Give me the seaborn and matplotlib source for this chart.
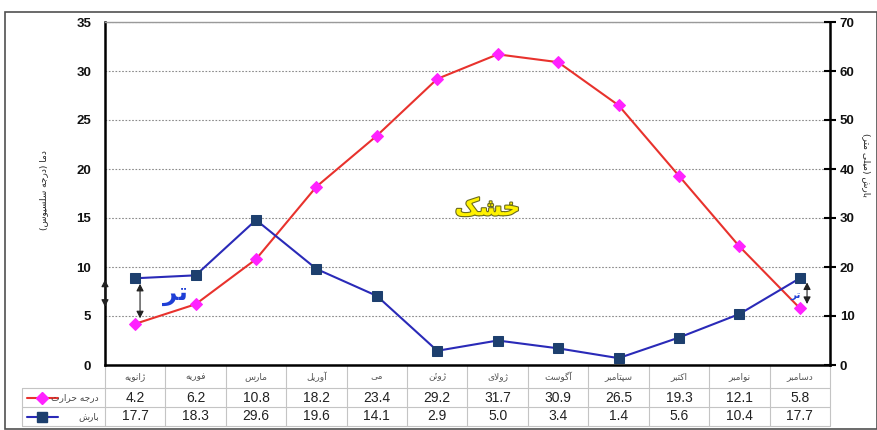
import matplotlib
matplotlib.use("Agg")
import matplotlib.pyplot as plt
import matplotlib.patheffects as pe
from matplotlib.patches import Rectangle
import seaborn as sns
import pandas as pd

# ---- data -------------------------------------------------------------
months = ["ژانویه", "فوریه", "مارس", "آوریل", "می", "ژوئن",
          "ژولای", "آگوست", "سپتامبر", "اکتبر", "نوامبر", "دسامبر"]
temperature = [4.2, 6.2, 10.8, 18.2, 23.4, 29.2, 31.7, 30.9, 26.5, 19.3, 12.1, 5.8]
precipitation = [17.7, 18.3, 29.6, 19.6, 14.1, 2.9, 5.0, 3.4, 1.4, 5.6, 10.4, 17.7]
temp_label = "درجه حرارت"
prec_label = "بارش"
left_title = "دما (درجه سلسیوس)"
right_title = "بارش (میلی متر)"
wet_label = "تر"
dry_label = "خشک"
temp_ticks = [0, 5, 10, 15, 20, 25, 30, 35]
prec_ticks = [0, 10, 20, 30, 40, 50, 60, 70]

# ---- minimal Persian shaping (contextual forms + right-to-left order) --
# letter: (isolated, final, initial, medial); None initial => right-joining
FORMS = {
    "\u0627": (0xFE8D, 0xFE8E, None, None),
    "\u0622": (0xFE81, 0xFE82, None, None),
    "\u0628": (0xFE8F, 0xFE90, 0xFE91, 0xFE92),
    "\u067E": (0xFB56, 0xFB57, 0xFB58, 0xFB59),
    "\u062A": (0xFE95, 0xFE96, 0xFE97, 0xFE98),
    "\u062C": (0xFE9D, 0xFE9E, 0xFE9F, 0xFEA0),
    "\u062D": (0xFEA1, 0xFEA2, 0xFEA3, 0xFEA4),
    "\u062E": (0xFEA5, 0xFEA6, 0xFEA7, 0xFEA8),
    "\u062F": (0xFEA9, 0xFEAA, None, None),
    "\u0631": (0xFEAD, 0xFEAE, None, None),
    "\u0698": (0xFB8A, 0xFB8B, None, None),
    "\u0633": (0xFEB1, 0xFEB2, 0xFEB3, 0xFEB4),
    "\u0634": (0xFEB5, 0xFEB6, 0xFEB7, 0xFEB8),
    "\u0641": (0xFED1, 0xFED2, 0xFED3, 0xFED4),
    "\u06A9": (0xFB8E, 0xFB8F, 0xFB90, 0xFB91),
    "\u06AF": (0xFB92, 0xFB93, 0xFB94, 0xFB95),
    "\u0644": (0xFEDD, 0xFEDE, 0xFEDF, 0xFEE0),
    "\u0645": (0xFEE1, 0xFEE2, 0xFEE3, 0xFEE4),
    "\u0646": (0xFEE5, 0xFEE6, 0xFEE7, 0xFEE8),
    "\u0648": (0xFEED, 0xFEEE, None, None),
    "\u0647": (0xFEE9, 0xFEEA, 0xFEEB, 0xFEEC),
    "\u06CC": (0xFBFC, 0xFBFD, 0xFBFE, 0xFBFF),
    "\u0626": (0xFE89, 0xFE8A, 0xFE8B, 0xFE8C),
}
LAM_ALEF = {"\u0627": (0xFEFB, 0xFEFC), "\u0622": (0xFEF5, 0xFEF6)}


def joins_next(ch):
    return ch in FORMS and FORMS[ch][2] is not None


def rtl(text):
    chars = list(text)
    out = []
    i = 0
    while i < len(chars):
        ch = chars[i]
        prev = chars[i - 1] if i > 0 else ""
        nxt = chars[i + 1] if i + 1 < len(chars) else ""
        if ch not in FORMS:
            out.append(ch)
            i += 1
            continue
        p = joins_next(prev)
        if ch == "\u0644" and nxt in LAM_ALEF:
            iso, fin = LAM_ALEF[nxt]
            out.append(chr(fin if p else iso))
            i += 2
            continue
        n = joins_next(ch) and nxt in FORMS
        iso, fin, ini, med = FORMS[ch]
        if p and n:
            code = med
        elif p:
            code = fin
        elif n:
            code = ini
        else:
            code = iso
        out.append(chr(code))
        i += 1
    swap = {"(": ")", ")": "("}
    return "".join(swap.get(c, c) for c in reversed(out))


# ---- figure -----------------------------------------------------------
sns.set_theme(style="white")
plt.rcParams["font.family"] = ["Liberation Sans", "DejaVu Sans"]
AR = "DejaVu Sans"

W, H = 878, 430
fig = plt.figure(figsize=(W / 100, H / 100), dpi=100)
fig.patch.set_facecolor("white")
fig.patches.append(Rectangle((5 / W, 1 / H), (W - 6) / W, (H - 13) / H,
                             transform=fig.transFigure, fill=False,
                             edgecolor="#505050", lw=1.2))

ax = fig.add_axes([105 / W, 1 - 365 / H, (830 - 105) / W, (365 - 22) / H])
ax2 = ax.twinx()

x = list(range(len(months)))
df = pd.DataFrame({"m": x, "t": temperature, "p": precipitation})

sns.lineplot(data=df, x="m", y="t", ax=ax, color="#e8322d", lw=1.5,
             marker="D", markersize=6.5, markerfacecolor="#ff22ff",
             markeredgecolor="#ff22ff", zorder=4)
sns.lineplot(data=df, x="m", y="p", ax=ax2, color="#2a2ab8", lw=1.5,
             marker="s", markersize=7, markerfacecolor="#1d3f6e",
             markeredgecolor="#1d3f6e", zorder=4)

ax.set_xlim(-0.5, 11.5)
ax.set_ylim(temp_ticks[0], temp_ticks[-1])
ax2.set_ylim(prec_ticks[0], prec_ticks[-1])
ax.set_yticks(temp_ticks)
ax2.set_yticks(prec_ticks)
ax.set_xticks([])
ax2.set_xticks([])
ax.set_xlabel("")
ax.set_ylabel("")
ax2.set_ylabel("")

ax.yaxis.grid(True, linestyle=(0, (1.5, 1.5)), color="#8a8a8a", lw=0.8)
ax.set_axisbelow(True)

for s in ["left", "bottom"]:
    ax.spines[s].set_color("black")
    ax.spines[s].set_linewidth(1.8)
ax.spines["top"].set_color("#9a9a9a")
ax.spines["top"].set_linewidth(1.0)
ax.spines["right"].set_visible(False)
for s in ["left", "bottom", "top"]:
    ax2.spines[s].set_visible(False)
ax2.spines["right"].set_color("black")
ax2.spines["right"].set_linewidth(1.8)

ax.tick_params(axis="y", length=0, pad=10, labelsize=9.5)
ax2.tick_params(axis="y", direction="inout", length=8, width=1.5,
                color="black", pad=3, labelsize=9.5)
for lab in ax.get_yticklabels() + ax2.get_yticklabels():
    lab.set_fontweight("bold")
    lab.set_color("#111111")

fig.text(44 / W, 1 - 190 / H, rtl(left_title), rotation=90, family=AR,
         fontsize=6.5, ha="center", va="center", color="#222222")
fig.text(866 / W, 1 - 165 / H, rtl(right_title), rotation=-90, family=AR,
         fontsize=6.5, ha="center", va="center", color="#222222")

# ---- annotations: wet / dry periods ------------------------------------
arrow = dict(arrowstyle="<|-|>,head_length=0.35,head_width=0.18",
             color="#222222", lw=0.8)
ax.annotate("", xy=(0.08, temperature[0]), xytext=(0.08, precipitation[0] / 2),
            arrowprops=dict(arrow, shrinkA=4, shrinkB=4), zorder=6)
ax.annotate("", xy=(11.12, temperature[-1]), xytext=(11.12, precipitation[-1] / 2),
            arrowprops=dict(arrow, shrinkA=3, shrinkB=3), zorder=6)
ax.annotate("", xy=(-0.5, temperature[-1]), xytext=(-0.5, precipitation[-1] / 2),
            arrowprops=dict(arrow, shrinkA=1, shrinkB=1), annotation_clip=False,
            zorder=6)

ax.text(0.66, 7.2, rtl(wet_label), family=AR, fontsize=18, fontweight="bold",
        color="#1f3fd6", ha="center", va="center", zorder=7)
ax.text(10.93, 7.0, rtl(wet_label), family=AR, fontsize=7.5, fontweight="bold",
        color="#1f3fd6", ha="center", va="center", zorder=7)
ax.text(5.83, 16.0, rtl(dry_label), family=AR, fontsize=17, fontweight="bold",
        color="#fff200", ha="center", va="center", zorder=7,
        path_effects=[pe.withStroke(linewidth=1.6, foreground="#6a6a20")])

# ---- data table under the plot ----------------------------------------
tr = ax.get_xaxis_transform()
ph = 343.0
y_head = -23 / ph
y_row1 = -42 / ph
y_row2 = -61 / ph
x_lab = -0.5 - 83 / 60.4
gcol = "#c4c4c4"

for k in range(13):
    ax.plot([k - 0.5, k - 0.5], [0, y_row2], transform=tr, color=gcol,
            lw=0.8, clip_on=False, zorder=1)
ax.plot([x_lab, x_lab], [y_head, y_row2], transform=tr, color=gcol, lw=0.8,
        clip_on=False)
for yy in (y_head, y_row1, y_row2):
    ax.plot([x_lab, 11.5], [yy, yy], transform=tr, color=gcol, lw=0.8,
            clip_on=False)

for i, m in enumerate(months):
    ax.text(i, y_head / 2, rtl(m), transform=tr, family=AR, fontsize=6.5,
            color="#555555", ha="center", va="center")
    ax.text(i, (y_head + y_row1) / 2, f"{temperature[i]:.1f}", transform=tr,
            fontsize=10, color="#222222", ha="center", va="center")
    ax.text(i, (y_row1 + y_row2) / 2, f"{precipitation[i]:.1f}", transform=tr,
            fontsize=10, color="#222222", ha="center", va="center")

# legend keys inside the label column
kx0, kx1 = -0.5 - 78 / 60.4, -0.5 - 47 / 60.4
for yy, col, mk, mc, name in [
        ((y_head + y_row1) / 2, "#e8322d", "D", "#ff22ff", temp_label),
        ((y_row1 + y_row2) / 2, "#2a2ab8", "s", "#1d3f6e", prec_label)]:
    ax.plot([kx0, kx1], [yy, yy], transform=tr, color=col, lw=1.5, clip_on=False)
    ax.plot([(kx0 + kx1) / 2], [yy], transform=tr, marker=mk, color=mc,
            markersize=6 if mk == "D" else 6.5, clip_on=False)
    ax.text(-0.5 - 6 / 60.4, yy, rtl(name), transform=tr, family=AR,
            fontsize=6.5, color="#444444", ha="right", va="center")

fig.savefig("out.png", dpi=100, facecolor="white")
